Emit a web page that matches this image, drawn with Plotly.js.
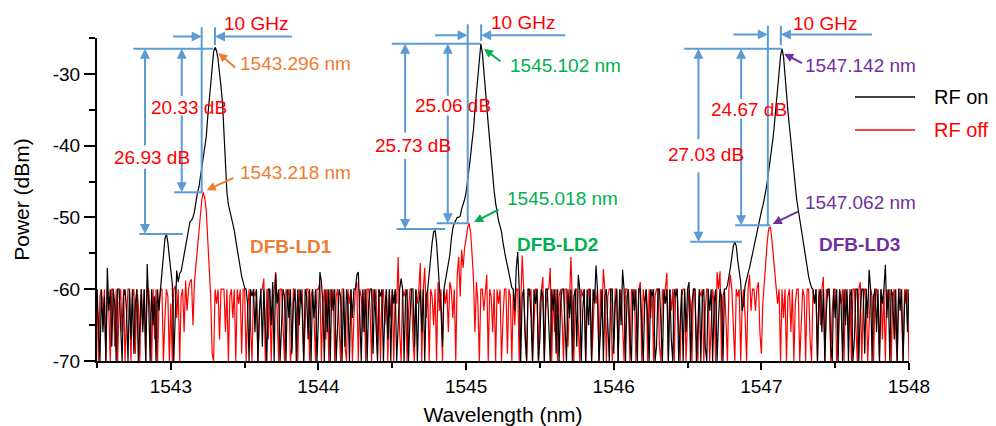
<!DOCTYPE html>
<html><head><meta charset="utf-8">
<script src="https://cdn.plot.ly/plotly-3.0.1.min.js"></script>
<style>html,body{margin:0;padding:0;background:#fff}#chart{width:996px;height:426px}</style>
</head><body><div id="chart"></div>
<script>
// ---------------- DATA ----------------
const STEP = 0.01; // nm, OSA sampling

// RF on (black) spectrum, segments [start wavelength, values in dBm]
const onNoiseA_start = 1542.50;
const onNoiseA = [-60,-64,-70,-60,-66,-61,-70,-57,-63,-60,
 -68,-60,-62,-70,-60,-60,-65,-70,-61,-60,
 -63,-70,-60,-67,-60,-69,-62,-60,-70,-64,
 -60,-66,-60,-70,-56.5,-62,-70,-60,-65,-61,
 -70,-60,-63,-60];
const onPeak1_start = 1542.94;
const onPeak1 = [-58,-55,-53,-52.3,-53.5,-55.5,
 -57.5,-59.2,-70,-63,-57.4,-59,-57.8,-57.5,-56.3,-55.5,
 -54.5,-52.7,-51.5,-50.6,-50.4,-50,-49.2,-47.5,-46.6,-45.8,
 -44.5,-43,-41.8,-40.5,-38.8,-36,-33.5,-31,-28.5,-26.9,
 -26.3,-26.8,-28,-29.6,-31.8,-34,-38.3,-43.2,-46.5,-48.2,
 -49,-49.8,-50.8,-51.8,-53.2,-54.5,-55.8,-57,-58.2,-59,
 -59.8];
const onNoiseB_start = 1543.51;
const onNoiseB = [-60,-62,-70,-60,-61,-60,-66,-60,-70,-63,
 -60,-68,-60,-64,-70,-60,-60,-65,-59,-70,
 -57.8,-62,-60,-70,-66,-60,-61,-70,-60,-64,
 -60,-69,-62,-60,-70,-60,-65,-60,-63,-70,
 -60,-61,-67,-60,-70,-60,-64,-60,-70,-62,
 -57.6,-59,-62,-70,-60,-66,-60,-70,-60,-63,
 -60,-70,-65,-60,-61,-70,-60,-68,-60,-62,
 -70,-60,-64,-60,-60,-58,-57.6,-63,-70,-60,
 -66,-60,-70,-62,-60,-60,-69,-60,-64,-70,
 -60,-61,-60,-70,-63,-60,-67,-60,-70,-60,
 -62,-60,-70,-65,-60,-58.5,-60,-70,-61,-60,
 -70,-64,-60,-60,-68,-60,-70,-62,-60,-66,
 -60,-70,-61];
const onPeak2_start = 1544.74;
const onPeak2 = [-60,-57.5,-55.5,-53.5,-52,-51.8,-53.5,-56.5,-58.5,-63,
 -68,-60,-58.8,-57.6,-56.5,-55.2,-53,-51.5,-50.8,-50.4,
 -50,-50,-49.8,-48.8,-48.2,-47.5,-46.5,-45,-43.3,-41.5,
 -39.5,-37.8,-35,-32.5,-30,-27.5,-25.8,-27,-29.8,-32.3,
 -34.5,-37,-39.3,-42,-44.5,-46.3,-48,-49.5,-50.5,-51.2,
 -52,-53.5,-55,-55.8,-56.7,-57.8,-59,-59.8];
const onNoiseC_start = 1545.32;
const onNoiseC = [-60,-63,-57,-54.8,-60,-70,-61,-60,-66,-70,
 -60,-60,-64,-70,-60,-62,-60,-70,-67,-60,
 -61,-70,-60,-60,-65,-70,-60,-63,-60,-69,
 -60,-70,-62,-60,-60,-66,-70,-60,-64,-60,
 -70,-61,-60,-68,-58,-60,-70,-63,-60,-70,
 -60,-65,-60,-70,-60,-62,-56.7,-60,-70,-66,
 -60,-70,-61,-60,-64,-70,-60,-60,-69,-62,
 -60,-70,-60,-65,-57.3,-60,-70,-61,-60,-67,
 -70,-60,-63,-60,-70,-60,-60,-66,-70,-62,
 -60,-64,-70,-60,-61,-60,-70,-68,-60,-60,
 -65,-70,-60,-62,-60,-70,-60,-67,-70,-60,
 -61,-60,-70,-64,-60,-70,-60,-66,-60,-59,
 -70,-62,-60,-60,-70,-65,-60,-70,-61,-60,
 -68,-70,-60,-63,-60,-70,-62,-60,-70,-64,
 -60,-61,-70,-60];
const onPeak3_start = 1546.76;
const onPeak3 = [-60,-59.5,-58.5,-57,-55.5,-54,-53.4,-54,-56,-58,
 -59,-63,-62,-59.5,-58.8,-57.8,-57,-56,-54.8,-53.8,
 -53,-52.2,-51.2,-50.2,-49.2,-48.4,-47.5,-46.3,-45,-43.6,
 -42,-40.6,-38.8,-36.6,-34.6,-32.4,-29.8,-27.5,-26.5,-27.6,
 -30.5,-33,-35.2,-37.3,-39.6,-41.7,-43.6,-45.6,-47.6,-49,
 -50.3,-51.6,-53,-54.6,-55.8,-57.1,-58.2,-59.1,-59.8];
const onNoiseD_start = 1547.35;
const onNoiseD = [-60,-62,-60,-70,-61,-60,-66,-60,-70,-63,
 -60,-60,-68,-70,-60,-64,-60,-70,-60,-62,
 -70,-60,-65,-60,-70,-61,-60,-70,-67,-60,
 -60,-70,-63,-60,-60,-69,-60,-64,-57.3,-60,
 -70,-61,-60,-66,-60,-70,-60,-62,-60,-56.6,
 -64,-60,-70,-60,-61,-67,-60,-70,-60,-63,
 -60,-70,-62,-60,-66,-60];

// RF off (red) spectrum
const offNoiseA_start = 1542.50;
const offNoiseA = [-60,-70,-61,-60,-65,-60,-70,-60,-63,-70,
 -60,-60,-68,-60,-70,-62,-60,-66,-60,-70,
 -64,-60,-60,-70,-61,-60,-69,-60,-62,-70,
 -60,-65,-60,-70,-60,-60,-63,-70,-60,-67,
 -60,-70,-62,-60,-60,-70,-64,-60,-61,-70];
const offPeak1_start = 1543.00;
const offPeak1 = [-62,-70,-60,-59.5,-64,-60,-70,-61,-60,-66,
 -58.8,-63,-60,-59,-58.6,-65,-59,-56.5,-54,-51.5,
 -49.3,-47.5,-46.5,-47.3,-49,-53,-57,-61,-69,-70,
 -60,-62,-60,-67,-60,-60];
const offNoiseB_start = 1543.36;
const offNoiseB = [-60,-66,-60,-70,-61,-60,-64,-60,-70,-60,
 -62,-60,-69,-60,-60,-70,-63,-60,-66,-70,
 -60,-61,-60,-70,-64,-60,-60,-58.5,-70,-60,
 -67,-60,-70,-62,-60,-57.6,-63,-70,-60,-60,
 -65,-70,-60,-61,-60,-70,-68,-60,-60,-63,
 -70,-60,-62,-60,-70,-66,-60,-60,-70,-61,
 -60,-64,-70,-60,-60,-59,-70,-62,-60,-67,
 -60,-70,-60,-63,-60,-70,-61,-60,-65,-70,
 -60,-60,-68,-70,-60,-62,-60,-70,-64,-60,
 -59,-70,-60,-61,-66,-60,-70,-60,-60,-63,
 -70,-60,-62,-60,-69,-60,-70,-61,-60,-65,
 -60,-70,-60,-64,-60,-70,-60,-62,-55.5,-66,
 -70,-60,-61,-60,-70,-63,-60,-60,-67,-70,
 -60,-62,-60,-56.3,-70,-60,-57,-64,-60,-70,
 -60,-61,-65,-60,-70,-59,-63,-60,-70,-60,
 -62,-60,-66,-59];
const offPeak2_start = 1544.90;
const offPeak2 = [-60,-64,-60,-70,-58,-55.5,-61,-54.5,-57,-54.2,
 -53,-51.5,-50.8,-52,-55,-58.5,-66,-59,-62,-70,-60];
const offNoiseC_start = 1545.11;
const offNoiseC = [-60,-63,-60,-58,-70,-60,-61,-66,-60,-70,
 -60,-62,-60,-70,-64,-60,-60,-69,-60,-61,
 -70,-60,-65,-60,-60,-70,-62,-55.3,-60,-67,
 -70,-60,-61,-60,-70,-64,-60,-60,-70,-62,
 -60,-58.3,-70,-63,-60,-60,-57,-70,-60,-66,
 -60,-70,-61,-60,-64,-70,-60,-60,-68,-60,
 -55.5,-62,-70,-60,-60,-65,-70,-60,-61,-60,
 -70,-63,-60,-60,-70,-66,-60,-62,-60,-70,
 -60,-64,-57.2,-60,-70,-61,-60,-60,-70,-67,
 -60,-60,-70,-62,-60,-65,-70,-60,-60,-63,
 -70,-60,-61,-60,-70,-66,-60,-59,-70,-60,
 -62,-60,-70,-60,-64,-60,-70,-61,-60,-60,
 -68,-70,-60,-62,-60,-57.7,-70,-60,-63,-60,
 -70,-60,-60,-66,-70,-61,-60,-60,-70,-64,
 -60,-62,-70,-60,-60,-67,-70,-60,-61,-60,
 -70,-63,-60,-60,-70,-65,-60,-62,-70,-57.6,
 -60,-57.5,-70,-61,-60,-64,-70,-60,-58,-60,
 -66,-70,-60,-61,-60,-70,-62,-60,-64,-70,
 -60,-58,-63,-60];
const offPeak3_start = 1546.95;
const offPeak3 = [-60,-63,-60,-59,-66,-69,-62,-58.5,-55.5,-53.3,
 -51.5,-51.3,-52.8,-55,-57,-59.5,-62,-60,-70,-60,-64];
const offNoiseD_start = 1547.16;
const offNoiseD = [-60,-70,-61,-60,-66,-60,-70,-62,-60,-60,
 -70,-64,-60,-61,-70,-60,-60,-67,-70,-60,
 -62,-60,-70,-60,-65,-60,-58.3,-70,-60,-61,
 -60,-70,-63,-60,-60,-70,-68,-60,-62,-60,
 -70,-60,-61,-66,-60,-70,-60,-60,-64,-70,
 -60,-59,-70,-62,-60,-60,-70,-65,-60,-61,
 -70,-60,-60,-63,-70,-60,-67,-60,-70,-60,
 -62,-60,-70,-61,-60,-66,-70,-60,-60,-64,
 -70,-60,-62,-60,-70];

// Axis ticks
const xTickVals = [1543, 1544, 1545, 1546, 1547, 1548];
const yTickVals = [-70, -60, -50, -40, -30];

// Annotation texts
const onPeakLabels = ['1543.296 nm', '1545.102 nm', '1547.142 nm'];
const offPeakLabels = ['1543.218 nm', '1545.018 nm', '1547.062 nm'];
const innerDb = ['20.33 dB', '25.06 dB', '24.67 dB'];
const outerDb = ['26.93 dB', '25.73 dB', '27.03 dB'];
const laserNames = ['DFB-LD1', 'DFB-LD2', 'DFB-LD3'];
const spacingLabel = '10 GHz';
const seriesNames = ['RF on', 'RF off'];

// ---------------- LAYOUT CONFIG (positions, styles) ----------------
const Y_MIN = -70, Y_MAX = -25;
const toPaper = v => (v - Y_MIN) / (Y_MAX - Y_MIN);
const BLUE = '#5B9BD5', RED = '#FF0000';
const groupColors = ['#ED7D31', '#00B050', '#7030A0'];
const FONT = 'Liberation Sans, Arial, Helvetica, sans-serif';

const geo = [
 {topY:-26.5, topX0:1542.746, topX1:1543.288,
  midY:-46.5, midX0:1543.022, midX1:1543.22,
  lowY:-52.3, lowX0:1542.787, lowX1:1543.081,
  outerX:1542.825, outerGap:[-40.2,-43.0], outerLabel:[1542.87,-41.6],
  innerX:1543.074, innerGap:[-33.3,-35.6], innerLabel:[1543.125,-34.65],
  vLeftX:1543.209, vRightX:1543.299, vTop:-23.5, vRightBottom:-26.0,
  arrowY:-24.8, arrowLTail:1543.005, arrowRTail:1543.83, ghzLabel:[1543.58,-23.0],
  onHead:[1543.322,-27.1], onTail:[1543.446,-29.3], onLabel:[1543.457,-28.6],
  offHead:[1543.243,-46.2], offTail:[1543.435,-44.4], offLabel:[1543.457,-43.7],
  nameLabel:[1543.525,-54.1]},
 {topY:-25.8, topX0:1544.497, topX1:1545.098,
  midY:-50.8, midX0:1544.801, midX1:1545.015,
  lowY:-51.6, lowX0:1544.53, lowX1:1544.858,
  outerX:1544.587, outerGap:[-38.4,-41.6], outerLabel:[1544.64,-40.0],
  innerX:1544.876, innerGap:[-33.25,-35.6], innerLabel:[1544.914,-34.4],
  vLeftX:1545.011, vRightX:1545.102, vTop:-23.1, vRightBottom:-25.4,
  arrowY:-24.6, arrowLTail:1544.779, arrowRTail:1545.682, ghzLabel:[1545.388,-22.8],
  onHead:[1545.122,-26.5], onTail:[1545.242,-28.4], onLabel:[1545.287,-28.85],
  offHead:[1545.054,-50.65], offTail:[1545.230,-48.8], offLabel:[1545.264,-47.4],
  nameLabel:[1545.332,-53.7]},
 {topY:-26.5, topX0:1546.477, topX1:1547.139,
  midY:-51.1, midX0:1546.822, midX1:1547.06,
  lowY:-53.4, lowX0:1546.518, lowX1:1546.868,
  outerX:1546.574, outerGap:[-39.3,-43.5], outerLabel:[1546.625,-41.2],
  innerX:1546.863, innerGap:[-33.7,-36.0], innerLabel:[1546.919,-34.9],
  vLeftX:1547.044, vRightX:1547.132, vTop:-23.3, vRightBottom:-26.0,
  arrowY:-24.5, arrowLTail:1546.80, arrowRTail:1547.76, ghzLabel:[1547.432,-22.95],
  onHead:[1547.154,-27.2], onTail:[1547.285,-28.6], onLabel:[1547.281,-28.85],
  offHead:[1547.077,-50.9], offTail:[1547.258,-49.1], offLabel:[1547.281,-47.9],
  nameLabel:[1547.376,-53.7]}
];

// ---------------- BUILD ----------------
function build(segs) {
  const x = [], y = [];
  segs.forEach(([start, vals]) => {
    vals.forEach((v, k) => { x.push(+(start + k * STEP).toFixed(3)); y.push(v); });
  });
  return {x, y};
}
const onData = build([[onNoiseA_start, onNoiseA], [onPeak1_start, onPeak1], [onNoiseB_start, onNoiseB],
  [onPeak2_start, onPeak2], [onNoiseC_start, onNoiseC], [onPeak3_start, onPeak3], [onNoiseD_start, onNoiseD]]);
const offData = build([[offNoiseA_start, offNoiseA], [offPeak1_start, offPeak1], [offNoiseB_start, offNoiseB],
  [offPeak2_start, offPeak2], [offNoiseC_start, offNoiseC], [offPeak3_start, offPeak3], [offNoiseD_start, offNoiseD]]);

// red drawn first, black on top (as in the reference noise floor)
const traces = [
  {x: offData.x, y: offData.y, type: 'scatter', mode: 'lines', name: seriesNames[1],
   line: {color: RED, width: 1.2}, showlegend: false, hoverinfo: 'x+y'},
  {x: onData.x, y: onData.y, type: 'scatter', mode: 'lines', name: seriesNames[0],
   line: {color: '#000000', width: 1.2}, showlegend: false, hoverinfo: 'x+y'}
];

const shapes = [], annotations = [];
const lineStyle = {color: BLUE, width: 2};
function hline(x0, x1, y) { shapes.push({type: 'line', xref: 'x', yref: 'y', x0, x1, y0: y, y1: y, line: lineStyle}); }
function vline(x, y0, y1) { shapes.push({type: 'line', xref: 'x', yref: 'paper', x0: x, x1: x, y0: toPaper(y0), y1: toPaper(y1), line: lineStyle}); }
function arrow(hx, hy, tx, ty, color, size) {
  annotations.push({x: hx, y: hy, ax: tx, ay: ty, xref: 'x', yref: 'y', axref: 'x', ayref: 'y',
    text: '', showarrow: true, arrowhead: 2, arrowsize: size || 1, arrowwidth: 2, arrowcolor: color, standoff: 0});
}
function label(x, y, text, color, xanchor, yref, bold) {
  annotations.push({x, y, xref: 'x', yref: yref || 'y', text: bold ? '<b>' + text + '</b>' : text,
    showarrow: false, xanchor: xanchor || 'center', yanchor: 'middle',
    font: {family: FONT, size: 19, color}});
}

geo.forEach((g, i) => {
  const c = groupColors[i];
  hline(g.topX0, g.topX1, g.topY);
  hline(g.midX0, g.midX1, g.midY);
  hline(g.lowX0, g.lowX1, g.lowY);
  arrow(g.outerX, g.topY, g.outerX, g.outerGap[0], BLUE);
  arrow(g.outerX, g.lowY, g.outerX, g.outerGap[1], BLUE);
  arrow(g.innerX, g.topY, g.innerX, g.innerGap[0], BLUE);
  arrow(g.innerX, g.midY, g.innerX, g.innerGap[1], BLUE);
  label(g.outerLabel[0], g.outerLabel[1], outerDb[i], RED);
  label(g.innerLabel[0], g.innerLabel[1], innerDb[i], RED);
  vline(g.vLeftX, g.vTop, g.midY);
  vline(g.vRightX, g.vTop, g.vRightBottom);
  annotations.push({x: g.vLeftX, y: toPaper(g.arrowY), xref: 'x', yref: 'paper', ax: g.arrowLTail, ay: 0,
    axref: 'x', ayref: 'pixel', text: '', showarrow: true, arrowhead: 2, arrowsize: 1, arrowwidth: 2, arrowcolor: BLUE, standoff: 0});
  annotations.push({x: g.vRightX, y: toPaper(g.arrowY), xref: 'x', yref: 'paper', ax: g.arrowRTail, ay: 0,
    axref: 'x', ayref: 'pixel', text: '', showarrow: true, arrowhead: 2, arrowsize: 1, arrowwidth: 2, arrowcolor: BLUE, standoff: 0});
  label(g.ghzLabel[0], toPaper(g.ghzLabel[1]), spacingLabel, RED, 'center', 'paper');
  arrow(g.onHead[0], g.onHead[1], g.onTail[0], g.onTail[1], c, 0.9);
  arrow(g.offHead[0], g.offHead[1], g.offTail[0], g.offTail[1], c, 0.9);
  label(g.onLabel[0], g.onLabel[1], onPeakLabels[i], c, 'left');
  label(g.offLabel[0], g.offLabel[1], offPeakLabels[i], c, 'left');
  label(g.nameLabel[0], g.nameLabel[1], laserNames[i], c, 'left', 'y', true);
});

// custom legend (paper coordinates)
const legendRows = [{y: 0.8173, color: '#000000'}, {y: 0.7152, color: RED}];
legendRows.forEach((r, k) => {
  shapes.push({type: 'line', xref: 'paper', yref: 'paper', x0: 0.9335, x1: 1.0074, y0: r.y, y1: r.y,
    line: {color: r.color, width: 1.5}});
  annotations.push({x: 1.0283, y: r.y, xref: 'paper', yref: 'paper', text: seriesNames[k], showarrow: false,
    xanchor: 'left', yanchor: 'middle', font: {family: FONT, size: 20, color: r.color}});
});

const axisCommon = {showline: true, linewidth: 2, linecolor: '#000', showgrid: false, zeroline: false,
  ticks: 'outside', tickwidth: 2, tickcolor: '#000', tickfont: {family: FONT, size: 19, color: '#000'}};

const layout = {
  width: 996, height: 426,
  margin: {l: 97, r: 87, t: 38, b: 65},
  paper_bgcolor: '#fff', plot_bgcolor: '#fff',
  font: {family: FONT, color: '#000'},
  showlegend: false,
  xaxis: Object.assign({}, axisCommon, {
    range: [1542.5, 1548], tickmode: 'array', tickvals: xTickVals, ticktext: xTickVals.map(String),
    ticklen: 7,
    minor: {dtick: 0.5, tick0: 1542.5, ticks: 'outside', ticklen: 5, tickwidth: 2, tickcolor: '#000', showgrid: false},
    title: {text: 'Wavelength (nm)', font: {family: FONT, size: 21, color: '#000'}, standoff: 13}
  }),
  yaxis: Object.assign({}, axisCommon, {
    range: [Y_MIN, Y_MAX], tickmode: 'array', tickvals: yTickVals, ticktext: yTickVals.map(String),
    ticklen: 11,
    minor: {dtick: 5, tick0: -70, ticks: 'outside', ticklen: 6, tickwidth: 2, tickcolor: '#000', showgrid: false},
    title: {text: 'Power (dBm)', font: {family: FONT, size: 21, color: '#000'}, standoff: 17}
  }),
  shapes, annotations
};

Plotly.newPlot('chart', traces, layout, {displayModeBar: false, staticPlot: true});
</script>
</body></html>
